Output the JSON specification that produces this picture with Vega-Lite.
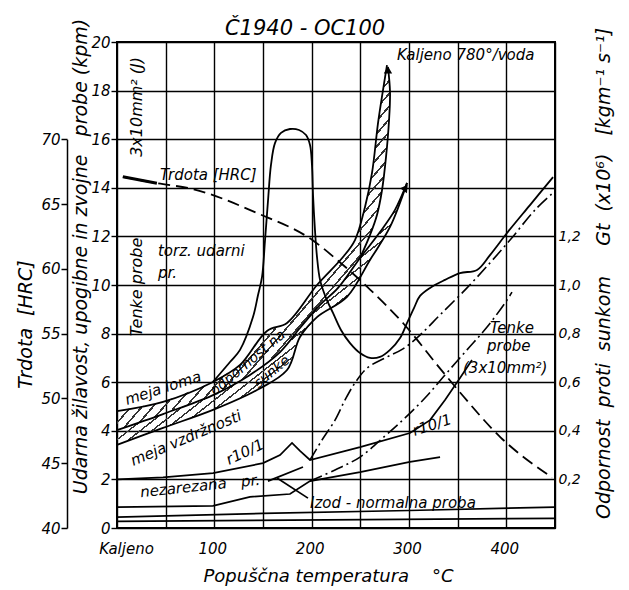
{
"$schema":"https://vega.github.io/schema/vega-lite/v6.json",
"width":438,"height":486,"autosize":"none",
"padding":{"left":117,"top":42,"right":74,"bottom":62},
"background":"white",
"config":{
 "view":{"stroke":"black","strokeWidth":2},
 "axis":{"labelFont":"DejaVu Sans","labelFontStyle":"italic","labelColor":"black","labelFontSize":15,"titleFont":"DejaVu Sans","titleFontStyle":"italic","titleFontWeight":"normal","titleColor":"black","domainColor":"black","tickColor":"black","gridColor":"black","gridOpacity":1},
 "text":{"font":"DejaVu Sans","fontStyle":"italic","fontSize":15,"color":"black","baseline":"middle"}
},
"layer":[
{"layer":[
 {"data":{"values":[
  {"b":1,"T":0,"lo":4.03,"hi":4.81},{"b":1,"T":47.3,"lo":4.69,"hi":5.19},{"b":1,"T":98.6,"lo":5.47,"hi":6.01},{"b":1,"T":126.4,"lo":6.08,"hi":6.71},{"b":1,"T":136.6,"lo":6.30,"hi":7.23},{"b":1,"T":154.1,"lo":6.83,"hi":8.11},{"b":1,"T":167.5,"lo":7.24,"hi":8.32},{"b":1,"T":174.7,"lo":7.59,"hi":8.44},{"b":1,"T":188.0,"lo":8.23,"hi":9.12},{"b":1,"T":205.5,"lo":9.04,"hi":10.0},{"b":1,"T":208.6,"lo":9.18,"hi":10.13},{"b":1,"T":227.1,"lo":9.88,"hi":10.93},{"b":1,"T":232.2,"lo":10.16,"hi":11.15},{"b":1,"T":244.5,"lo":10.83,"hi":11.85},{"b":1,"T":249.7,"lo":11.11,"hi":12.54},{"b":1,"T":254.8,"lo":11.58,"hi":13.21},{"b":1,"T":260.0,"lo":12.06,"hi":14.22},{"b":1,"T":262.0,"lo":12.29,"hi":14.61},{"b":1,"T":267.1,"lo":12.88,"hi":16.30},{"b":1,"T":268.2,"lo":13.1,"hi":16.67},{"b":1,"T":272.3,"lo":13.91,"hi":17.75},{"b":1,"T":273.3,"lo":14.24,"hi":18.02},{"b":1,"T":276.4,"lo":15.27,"hi":18.80},{"b":1,"T":277.4,"lo":15.76,"hi":19.05},{"b":1,"T":278.4,"lo":16.3,"hi":18.97},{"b":1,"T":279.5,"lo":16.79,"hi":18.45},{"b":1,"T":280.5,"lo":17.94,"hi":17.94},
  {"b":2,"T":0,"lo":3.42,"hi":4.03},{"b":2,"T":47.3,"lo":4.12,"hi":4.69},{"b":2,"T":98.6,"lo":4.86,"hi":5.47},{"b":2,"T":136.6,"lo":5.55,"hi":6.30},{"b":2,"T":143.8,"lo":5.68,"hi":6.52},{"b":2,"T":167.5,"lo":6.31,"hi":7.24},{"b":2,"T":174.7,"lo":6.50,"hi":7.59},{"b":2,"T":188.0,"lo":7.86,"hi":8.23},{"b":2,"T":205.5,"lo":8.68,"hi":9.04},{"b":2,"T":208.6,"lo":8.77,"hi":9.18},{"b":2,"T":227.1,"lo":9.26,"hi":9.88},{"b":2,"T":236.3,"lo":9.51,"hi":10.38},{"b":2,"T":249.7,"lo":10.37,"hi":11.11},{"b":2,"T":259.9,"lo":11.03,"hi":11.64},{"b":2,"T":270.2,"lo":11.71,"hi":12.18},{"b":2,"T":280.5,"lo":12.39,"hi":12.79},{"b":2,"T":285.6,"lo":12.92,"hi":13.09},{"b":2,"T":298.0,"lo":14.20,"hi":14.20}
 ]},
 "mark":{"type":"area","opacity":1,"stroke":null,"fill":{"gradient":"linear","x1":0,"y1":0,"x2":0.87,"y2":1,"stops":[
 {"offset":0,"color":"transparent"},{"offset":0.016,"color":"transparent"},{"offset":0.016,"color":"#333"},{"offset":0.02,"color":"#333"},
 {"offset":0.02,"color":"transparent"},{"offset":0.036,"color":"transparent"},{"offset":0.036,"color":"#333"},{"offset":0.04,"color":"#333"},
 {"offset":0.04,"color":"transparent"},{"offset":0.056,"color":"transparent"},{"offset":0.056,"color":"#333"},{"offset":0.06,"color":"#333"},
 {"offset":0.06,"color":"transparent"},{"offset":0.076,"color":"transparent"},{"offset":0.076,"color":"#333"},{"offset":0.08,"color":"#333"},
 {"offset":0.08,"color":"transparent"},{"offset":0.096,"color":"transparent"},{"offset":0.096,"color":"#333"},{"offset":0.1,"color":"#333"},
 {"offset":0.1,"color":"transparent"},{"offset":0.116,"color":"transparent"},{"offset":0.116,"color":"#333"},{"offset":0.12,"color":"#333"},
 {"offset":0.12,"color":"transparent"},{"offset":0.136,"color":"transparent"},{"offset":0.136,"color":"#333"},{"offset":0.14,"color":"#333"},
 {"offset":0.14,"color":"transparent"},{"offset":0.156,"color":"transparent"},{"offset":0.156,"color":"#333"},{"offset":0.16,"color":"#333"},
 {"offset":0.16,"color":"transparent"},{"offset":0.176,"color":"transparent"},{"offset":0.176,"color":"#333"},{"offset":0.18,"color":"#333"},
 {"offset":0.18,"color":"transparent"},{"offset":0.196,"color":"transparent"},{"offset":0.196,"color":"#333"},{"offset":0.2,"color":"#333"},
 {"offset":0.2,"color":"transparent"},{"offset":0.216,"color":"transparent"},{"offset":0.216,"color":"#333"},{"offset":0.22,"color":"#333"},
 {"offset":0.22,"color":"transparent"},{"offset":0.236,"color":"transparent"},{"offset":0.236,"color":"#333"},{"offset":0.24,"color":"#333"},
 {"offset":0.24,"color":"transparent"},{"offset":0.256,"color":"transparent"},{"offset":0.256,"color":"#333"},{"offset":0.26,"color":"#333"},
 {"offset":0.26,"color":"transparent"},{"offset":0.276,"color":"transparent"},{"offset":0.276,"color":"#333"},{"offset":0.28,"color":"#333"},
 {"offset":0.28,"color":"transparent"},{"offset":0.296,"color":"transparent"},{"offset":0.296,"color":"#333"},{"offset":0.3,"color":"#333"},
 {"offset":0.3,"color":"transparent"},{"offset":0.316,"color":"transparent"},{"offset":0.316,"color":"#333"},{"offset":0.32,"color":"#333"},
 {"offset":0.32,"color":"transparent"},{"offset":0.336,"color":"transparent"},{"offset":0.336,"color":"#333"},{"offset":0.34,"color":"#333"},
 {"offset":0.34,"color":"transparent"},{"offset":0.356,"color":"transparent"},{"offset":0.356,"color":"#333"},{"offset":0.36,"color":"#333"},
 {"offset":0.36,"color":"transparent"},{"offset":0.376,"color":"transparent"},{"offset":0.376,"color":"#333"},{"offset":0.38,"color":"#333"},
 {"offset":0.38,"color":"transparent"},{"offset":0.396,"color":"transparent"},{"offset":0.396,"color":"#333"},{"offset":0.4,"color":"#333"},
 {"offset":0.4,"color":"transparent"},{"offset":0.416,"color":"transparent"},{"offset":0.416,"color":"#333"},{"offset":0.42,"color":"#333"},
 {"offset":0.42,"color":"transparent"},{"offset":0.436,"color":"transparent"},{"offset":0.436,"color":"#333"},{"offset":0.44,"color":"#333"},
 {"offset":0.44,"color":"transparent"},{"offset":0.456,"color":"transparent"},{"offset":0.456,"color":"#333"},{"offset":0.46,"color":"#333"},
 {"offset":0.46,"color":"transparent"},{"offset":0.476,"color":"transparent"},{"offset":0.476,"color":"#333"},{"offset":0.48,"color":"#333"},
 {"offset":0.48,"color":"transparent"},{"offset":0.496,"color":"transparent"},{"offset":0.496,"color":"#333"},{"offset":0.5,"color":"#333"},
 {"offset":0.5,"color":"transparent"},{"offset":0.516,"color":"transparent"},{"offset":0.516,"color":"#333"},{"offset":0.52,"color":"#333"},
 {"offset":0.52,"color":"transparent"},{"offset":0.536,"color":"transparent"},{"offset":0.536,"color":"#333"},{"offset":0.54,"color":"#333"},
 {"offset":0.54,"color":"transparent"},{"offset":0.556,"color":"transparent"},{"offset":0.556,"color":"#333"},{"offset":0.56,"color":"#333"},
 {"offset":0.56,"color":"transparent"},{"offset":0.576,"color":"transparent"},{"offset":0.576,"color":"#333"},{"offset":0.58,"color":"#333"},
 {"offset":0.58,"color":"transparent"},{"offset":0.596,"color":"transparent"},{"offset":0.596,"color":"#333"},{"offset":0.6,"color":"#333"},
 {"offset":0.6,"color":"transparent"},{"offset":0.616,"color":"transparent"},{"offset":0.616,"color":"#333"},{"offset":0.62,"color":"#333"},
 {"offset":0.62,"color":"transparent"},{"offset":0.636,"color":"transparent"},{"offset":0.636,"color":"#333"},{"offset":0.64,"color":"#333"},
 {"offset":0.64,"color":"transparent"},{"offset":0.656,"color":"transparent"},{"offset":0.656,"color":"#333"},{"offset":0.66,"color":"#333"},
 {"offset":0.66,"color":"transparent"},{"offset":0.676,"color":"transparent"},{"offset":0.676,"color":"#333"},{"offset":0.68,"color":"#333"},
 {"offset":0.68,"color":"transparent"},{"offset":0.696,"color":"transparent"},{"offset":0.696,"color":"#333"},{"offset":0.7,"color":"#333"},
 {"offset":0.7,"color":"transparent"},{"offset":0.716,"color":"transparent"},{"offset":0.716,"color":"#333"},{"offset":0.72,"color":"#333"},
 {"offset":0.72,"color":"transparent"},{"offset":0.736,"color":"transparent"},{"offset":0.736,"color":"#333"},{"offset":0.74,"color":"#333"},
 {"offset":0.74,"color":"transparent"},{"offset":0.756,"color":"transparent"},{"offset":0.756,"color":"#333"},{"offset":0.76,"color":"#333"},
 {"offset":0.76,"color":"transparent"},{"offset":0.776,"color":"transparent"},{"offset":0.776,"color":"#333"},{"offset":0.78,"color":"#333"},
 {"offset":0.78,"color":"transparent"},{"offset":0.796,"color":"transparent"},{"offset":0.796,"color":"#333"},{"offset":0.8,"color":"#333"},
 {"offset":0.8,"color":"transparent"},{"offset":0.816,"color":"transparent"},{"offset":0.816,"color":"#333"},{"offset":0.82,"color":"#333"},
 {"offset":0.82,"color":"transparent"},{"offset":0.836,"color":"transparent"},{"offset":0.836,"color":"#333"},{"offset":0.84,"color":"#333"},
 {"offset":0.84,"color":"transparent"},{"offset":0.856,"color":"transparent"},{"offset":0.856,"color":"#333"},{"offset":0.86,"color":"#333"},
 {"offset":0.86,"color":"transparent"},{"offset":0.876,"color":"transparent"},{"offset":0.876,"color":"#333"},{"offset":0.88,"color":"#333"},
 {"offset":0.88,"color":"transparent"},{"offset":0.896,"color":"transparent"},{"offset":0.896,"color":"#333"},{"offset":0.9,"color":"#333"},
 {"offset":0.9,"color":"transparent"},{"offset":0.916,"color":"transparent"},{"offset":0.916,"color":"#333"},{"offset":0.92,"color":"#333"},
 {"offset":0.92,"color":"transparent"},{"offset":0.936,"color":"transparent"},{"offset":0.936,"color":"#333"},{"offset":0.94,"color":"#333"},
 {"offset":0.94,"color":"transparent"},{"offset":0.956,"color":"transparent"},{"offset":0.956,"color":"#333"},{"offset":0.96,"color":"#333"},
 {"offset":0.96,"color":"transparent"},{"offset":0.976,"color":"transparent"},{"offset":0.976,"color":"#333"},{"offset":0.98,"color":"#333"},
 {"offset":0.98,"color":"transparent"},{"offset":0.996,"color":"transparent"},{"offset":0.996,"color":"#333"},{"offset":1,"color":"#333"}
 ]}},
 "encoding":{
  "x":{"field":"T","type":"quantitative","scale":{"domain":[0,450],"nice":false,"zero":false},
   "axis":{"title":"Popuščna temperatura\u00a0\u00a0\u00a0\u00a0°C","titleFontSize":18,"titleX":211,"titleY":48,"titleBaseline":"middle","values":[0,50,100,150,200,250,300,350,400,450],"grid":true,"gridWidth":1.4,"ticks":false,"domain":false,"labelPadding":13,"labelOverlap":false,"labelFlush":false,
    "labelExpr":"datum.value == 0 ? 'Kaljeno' : ((datum.value % 100 == 0) ? datum.label : '')",
    "labelOffset":{"condition":{"test":"datum.value == 0","value":9},"value":-2}}},
  "y":{"field":"lo","type":"quantitative","scale":{"domain":[0,20],"nice":false,"zero":false},
   "axis":{"title":"Udarna žilavost, upogibne in zvojne\u00a0\u00a0 probe (kpm)","titleFontSize":19,"titleX":-37,"titleY":214,"titleAlign":"center","titleBaseline":"middle","values":[0,2,4,6,8,10,12,14,16,18,20],"grid":true,"gridWidth":1.4,"tickSize":6,"tickWidth":1.4,"domain":false,"labelPadding":1}},
  "y2":{"field":"hi"},
  "detail":{"field":"b"}
 }},
 {"data":{"values":[
  {"s":"U","i":1,"T":0,"v":4.81},{"s":"U","i":2,"T":47.3,"v":5.19},{"s":"U","i":3,"T":98.6,"v":6.01},{"s":"U","i":4,"T":126.4,"v":6.71},{"s":"U","i":5,"T":154.1,"v":8.11},{"s":"U","i":6,"T":174.7,"v":8.44},{"s":"U","i":7,"T":205.5,"v":10.0},{"s":"U","i":8,"T":232.2,"v":11.15},{"s":"U","i":9,"T":244.5,"v":11.85},{"s":"U","i":10,"T":254.8,"v":13.21},{"s":"U","i":11,"T":262.0,"v":14.61},{"s":"U","i":12,"T":268.2,"v":16.67},{"s":"U","i":13,"T":273.3,"v":18.02},{"s":"U","i":14,"T":277.4,"v":19.05},
  {"s":"M","i":1,"T":0,"v":4.03},{"s":"M","i":2,"T":47.3,"v":4.69},{"s":"M","i":3,"T":98.6,"v":5.47},{"s":"M","i":4,"T":136.6,"v":6.30},{"s":"M","i":5,"T":167.5,"v":7.24},{"s":"M","i":6,"T":188.0,"v":8.23},{"s":"M","i":7,"T":208.6,"v":9.18},{"s":"M","i":8,"T":227.1,"v":9.88},{"s":"M","i":9,"T":249.7,"v":11.11},{"s":"M","i":10,"T":270.2,"v":12.18},{"s":"M","i":11,"T":285.6,"v":13.09},{"s":"M","i":12,"T":298.0,"v":14.20},
  {"s":"L","i":1,"T":0,"v":3.42},{"s":"L","i":2,"T":47.3,"v":4.12},{"s":"L","i":3,"T":98.6,"v":4.86},{"s":"L","i":4,"T":143.8,"v":5.68},{"s":"L","i":5,"T":174.7,"v":6.50},{"s":"L","i":6,"T":188.0,"v":7.86},{"s":"L","i":7,"T":205.5,"v":8.68},{"s":"L","i":8,"T":236.3,"v":9.51},{"s":"L","i":9,"T":259.9,"v":11.03},{"s":"L","i":10,"T":280.5,"v":12.39},{"s":"L","i":11,"T":298.0,"v":14.20},
  {"s":"R","i":1,"T":249.7,"v":11.11},{"s":"R","i":2,"T":260.0,"v":12.06},{"s":"R","i":3,"T":267.1,"v":12.88},{"s":"R","i":4,"T":272.3,"v":13.91},{"s":"R","i":5,"T":276.4,"v":15.27},{"s":"R","i":6,"T":279.5,"v":16.79},{"s":"R","i":7,"T":280.5,"v":17.94},{"s":"R","i":8,"T":278.4,"v":18.97},
  {"s":"tor","i":1,"T":98.6,"v":6.01},{"s":"tor","i":2,"T":116.1,"v":6.83},{"s":"tor","i":3,"T":126.4,"v":7.33},{"s":"tor","i":4,"T":139.7,"v":8.68},{"s":"tor","i":5,"T":144.9,"v":9.59},{"s":"tor","i":6,"T":149.0,"v":10.33},{"s":"tor","i":7,"T":152.1,"v":11.85},{"s":"tor","i":8,"T":155.2,"v":13.50},{"s":"tor","i":9,"T":158.2,"v":14.94},{"s":"tor","i":10,"T":162.3,"v":15.84},{"s":"tor","i":11,"T":168.5,"v":16.26},{"s":"tor","i":12,"T":177.7,"v":16.42},{"s":"tor","i":13,"T":187.0,"v":16.38},{"s":"tor","i":14,"T":194.2,"v":16.17},{"s":"tor","i":15,"T":198.3,"v":15.76},{"s":"tor","i":16,"T":200.3,"v":14.94},{"s":"tor","i":17,"T":201.4,"v":13.70},{"s":"tor","i":18,"T":203.4,"v":12.26},{"s":"tor","i":19,"T":205.5,"v":11.15},{"s":"tor","i":20,"T":208.6,"v":10.21},{"s":"tor","i":21,"T":214.7,"v":9.47},{"s":"tor","i":22,"T":221.9,"v":8.85},{"s":"tor","i":23,"T":230.1,"v":8.15},{"s":"tor","i":24,"T":239.4,"v":7.61},{"s":"tor","i":25,"T":249.7,"v":7.20},{"s":"tor","i":26,"T":259.9,"v":7.00},{"s":"tor","i":27,"T":270.2,"v":7.04},{"s":"tor","i":28,"T":280.5,"v":7.33},{"s":"tor","i":29,"T":290.8,"v":7.82},{"s":"tor","i":30,"T":298.0,"v":8.44},{"s":"tor","i":31,"T":305.1,"v":9.05},{"s":"tor","i":32,"T":311.3,"v":9.55},{"s":"tor","i":33,"T":321.6,"v":9.88},{"s":"tor","i":34,"T":337.0,"v":10.21},{"s":"tor","i":35,"T":352.4,"v":10.49},{"s":"tor","i":36,"T":369.9,"v":10.62},{"s":"tor","i":37,"T":383.2,"v":11.23},{"s":"tor","i":38,"T":400.7,"v":12.14},{"s":"tor","i":39,"T":424.3,"v":13.29},{"s":"tor","i":40,"T":448.0,"v":14.44}
 ]},
 "mark":{"type":"line","color":"black","strokeWidth":1.8,"interpolate":"catmull-rom"},
 "encoding":{"x":{"field":"T","type":"quantitative"},"y":{"field":"v","type":"quantitative"},"detail":{"field":"s"},"order":{"field":"i"}}},
 {"data":{"values":[
  {"s":"r10","i":1,"T":0,"v":2.0},{"s":"r10","i":2,"T":47.3,"v":2.08},{"s":"r10","i":3,"T":98.6,"v":2.26},{"s":"r10","i":4,"T":150.0,"v":2.67},{"s":"r10","i":5,"T":167.5,"v":3.0},{"s":"r10","i":6,"T":179.8,"v":3.5},{"s":"r10","i":7,"T":188.0,"v":3.17},{"s":"r10","i":8,"T":198.3,"v":2.8},{"s":"r10","i":9,"T":249.7,"v":3.33},{"s":"r10","i":10,"T":301.0,"v":3.91},{"s":"r10","i":11,"T":321.6,"v":4.44},{"s":"r10","i":12,"T":337.0,"v":5.27},{"s":"r10","i":13,"T":352.4,"v":6.17},{"s":"r10","i":14,"T":364.7,"v":6.91},
  {"s":"N","i":1,"T":0,"v":0.86},{"s":"N","i":2,"T":98.6,"v":0.91},{"s":"N","i":3,"T":136.6,"v":1.28},{"s":"N","i":4,"T":177.7,"v":1.40},{"s":"N","i":5,"T":198.3,"v":1.93},{"s":"N","i":6,"T":249.7,"v":2.30},{"s":"N","i":7,"T":301.0,"v":2.72},{"s":"N","i":8,"T":331.9,"v":2.92},
  {"s":"Iz","i":1,"T":0,"v":0.45},{"s":"Iz","i":2,"T":150,"v":0.6},{"s":"Iz","i":3,"T":300,"v":0.72},{"s":"Iz","i":4,"T":450,"v":0.86},
  {"s":"fl","i":1,"T":0,"v":0.27},{"s":"fl","i":2,"T":450,"v":0.4},
  {"s":"seg","i":1,"T":155.1,"v":1.93},{"s":"seg","i":2,"T":191.1,"v":2.51},
  {"s":"lead","i":1,"T":164.4,"v":2.06},{"s":"lead","i":2,"T":196.2,"v":1.23}
 ]},
 "mark":{"type":"line","color":"black","strokeWidth":1.7},
 "encoding":{"x":{"field":"T","type":"quantitative"},"y":{"field":"v","type":"quantitative"},"detail":{"field":"s"},"order":{"field":"i"}}},
 {"data":{"values":[
  {"s":"D1","i":1,"T":198.3,"v":2.80},{"s":"D1","i":2,"T":210.6,"v":3.62},{"s":"D1","i":3,"T":224.0,"v":4.44},{"s":"D1","i":4,"T":234.3,"v":5.27},{"s":"D1","i":5,"T":244.5,"v":5.97},{"s":"D1","i":6,"T":256.9,"v":6.58},{"s":"D1","i":7,"T":275.4,"v":7.00},{"s":"D1","i":8,"T":293.8,"v":7.37},{"s":"D1","i":9,"T":311.3,"v":7.94},{"s":"D1","i":10,"T":331.9,"v":8.77},{"s":"D1","i":11,"T":359.6,"v":9.88},{"s":"D1","i":12,"T":383.2,"v":10.91},{"s":"D1","i":13,"T":403.8,"v":11.85},{"s":"D1","i":14,"T":429.5,"v":13.09},{"s":"D1","i":15,"T":448.0,"v":13.79},
  {"s":"D2","i":1,"T":198.3,"v":1.93},{"s":"D2","i":2,"T":224.0,"v":2.39},{"s":"D2","i":3,"T":249.7,"v":2.92},{"s":"D2","i":4,"T":275.4,"v":3.79},{"s":"D2","i":5,"T":295.9,"v":4.53},{"s":"D2","i":6,"T":316.4,"v":5.35},{"s":"D2","i":7,"T":337.0,"v":6.30},{"s":"D2","i":8,"T":359.6,"v":7.33},{"s":"D2","i":9,"T":380.2,"v":8.27},{"s":"D2","i":10,"T":400.7,"v":9.38},{"s":"D2","i":11,"T":405.8,"v":9.71}
 ]},
 "mark":{"type":"line","color":"black","strokeWidth":1.6,"strokeDash":[13,4,2,4],"interpolate":"catmull-rom"},
 "encoding":{"x":{"field":"T","type":"quantitative"},"y":{"field":"v","type":"quantitative"},"detail":{"field":"s"},"order":{"field":"i"}}},
 {"data":{"values":[{"T":278.4,"v":18.85}]},
 "mark":{"type":"point","shape":"triangle-up","filled":true,"color":"black","opacity":1,"size":70},
 "encoding":{"x":{"field":"T","type":"quantitative"},"y":{"field":"v","type":"quantitative"}}},
 {"data":{"values":[{"T":296.5,"v":14.0}]},
 "mark":{"type":"point","shape":"triangle-up","filled":true,"color":"black","opacity":1,"size":70,"angle":35},
 "encoding":{"x":{"field":"T","type":"quantitative"},"y":{"field":"v","type":"quantitative"}}},
 {"data":{"values":[{"T":193.2,"v":20.29,"t":"Č1940 - OC100"}]},
 "mark":{"type":"text","align":"center","baseline":"alphabetic","fontSize":21},
 "encoding":{"x":{"field":"T","type":"quantitative"},"y":{"field":"v","type":"quantitative"},"text":{"field":"t"}}},
 {"data":{"values":[
  {"T":287.7,"v":19.47,"t":"Kaljeno 780°/voda"},
  {"T":44.2,"v":14.53,"t":"Trdota [HRC]"},
  {"T":42.1,"v":11.4,"t":"torz. udarni"},
  {"T":42.1,"v":10.49,"t":"pr."},
  {"T":383.2,"v":8.23,"t":"Tenke"},
  {"T":380.1,"v":7.49,"t":"probe"},
  {"T":355.5,"v":6.58,"t":"(3x10mm²)"},
  {"T":198.3,"v":1.03,"t":"Izod - normalna proba"}
 ]},
 "mark":{"type":"text","align":"left"},
 "encoding":{"x":{"field":"T","type":"quantitative"},"y":{"field":"v","type":"quantitative"},"text":{"field":"t"}}},
 {"data":{"values":[{"T":20.5,"v":17.33,"t":"3x10mm² (J)"},{"T":20.5,"v":9.92,"t":"Tenke probe"}]},
 "mark":{"type":"text","align":"center","angle":270,"fontSize":16},
 "encoding":{"x":{"field":"T","type":"quantitative"},"y":{"field":"v","type":"quantitative"},"text":{"field":"t"}}},
 {"data":{"values":[{"T":47.3,"v":5.76,"t":"meja loma"}]},
 "mark":{"type":"text","align":"center","angle":-18},
 "encoding":{"x":{"field":"T","type":"quantitative"},"y":{"field":"v","type":"quantitative"},"text":{"field":"t"}}},
 {"data":{"values":[{"T":134.6,"v":6.79,"t":"odpornost na"},{"T":159.3,"v":6.42,"t":"sunke"}]},
 "mark":{"type":"text","align":"center","angle":-40,"fontSize":14},
 "encoding":{"x":{"field":"T","type":"quantitative"},"y":{"field":"v","type":"quantitative"},"text":{"field":"t"}}},
 {"data":{"values":[{"T":70.9,"v":3.70,"t":"meja vzdržnosti"}]},
 "mark":{"type":"text","align":"center","angle":-23},
 "encoding":{"x":{"field":"T","type":"quantitative"},"y":{"field":"v","type":"quantitative"},"text":{"field":"t"}}},
 {"data":{"values":[{"T":131.5,"v":3.13,"t":"r10/1"}]},
 "mark":{"type":"text","align":"center","angle":-25},
 "encoding":{"x":{"field":"T","type":"quantitative"},"y":{"field":"v","type":"quantitative"},"text":{"field":"t"}}},
 {"data":{"values":[{"T":85.3,"v":1.73,"t":"nezarezana\u00a0\u00a0\u00a0pr."}]},
 "mark":{"type":"text","align":"center","angle":-6},
 "encoding":{"x":{"field":"T","type":"quantitative"},"y":{"field":"v","type":"quantitative"},"text":{"field":"t"}}},
 {"data":{"values":[{"T":323.6,"v":4.24,"t":"r10/1"}]},
 "mark":{"type":"text","align":"center","angle":-18},
 "encoding":{"x":{"field":"T","type":"quantitative"},"y":{"field":"v","type":"quantitative"},"text":{"field":"t"}}}
]},
{"layer":[
 {"data":{"values":[
  {"T":6,"hrc":67.1},{"T":41,"hrc":66.6},{"T":75,"hrc":66.2},{"T":144,"hrc":64.3},{"T":201,"hrc":62.2},{"T":226,"hrc":60.7},{"T":260,"hrc":58.4},{"T":294,"hrc":55.8},{"T":332,"hrc":52.3},{"T":352,"hrc":50.5},{"T":394,"hrc":47.0},{"T":447,"hrc":43.9}
 ]},
 "mark":{"type":"line","color":"black","strokeWidth":1.8,"strokeDash":[12,6],"interpolate":"monotone"},
 "encoding":{"x":{"field":"T","type":"quantitative"},
  "y":{"field":"hrc","type":"quantitative","scale":{"domain":[40,70],"range":[486,97.2],"nice":false,"zero":false},
   "axis":{"orient":"left","offset":50,"title":"Trdota\u00a0 [HRC]","titleFontSize":19,"titleX":-42,"titleY":282,"titleAlign":"center","titleBaseline":"middle","values":[40,45,50,55,60,65,70],"grid":false,"tickSize":6,"tickWidth":1.5,"domainWidth":1.5,"labelPadding":1}}}},
 {"data":{"values":[{"T":6,"hrc":67.1},{"T":41,"hrc":66.6}]},
 "mark":{"type":"line","color":"black","strokeWidth":3},
 "encoding":{"x":{"field":"T","type":"quantitative"},"y":{"field":"hrc","type":"quantitative"}}}
]},
{"data":{"values":[{"T":0,"g":0.2},{"T":0,"g":1.2}]},
 "mark":{"type":"point","opacity":0},
 "encoding":{"x":{"field":"T","type":"quantitative"},
  "y":{"field":"g","type":"quantitative","scale":{"domain":[0,2],"nice":false,"zero":false},
   "axis":{"orient":"right","title":"Odpornost\u00a0 proti\u00a0 sunkom\u00a0\u00a0\u00a0\u00a0 Gt\u00a0 (x10⁶)\u00a0\u00a0 [kgm⁻¹ s⁻¹]","titleFontSize":19,"titleAngle":270,"titleX":48,"titleY":231,"titleAlign":"center","titleBaseline":"middle","values":[0.2,0.4,0.6,0.8,1.0,1.2],"labelExpr":"replace(format(datum.value,'.1f'),'.',',')","grid":false,"ticks":false,"domain":false,"labelPadding":3,"labelFontSize":14}}}}
],
"resolve":{"scale":{"y":"independent"}}
}
